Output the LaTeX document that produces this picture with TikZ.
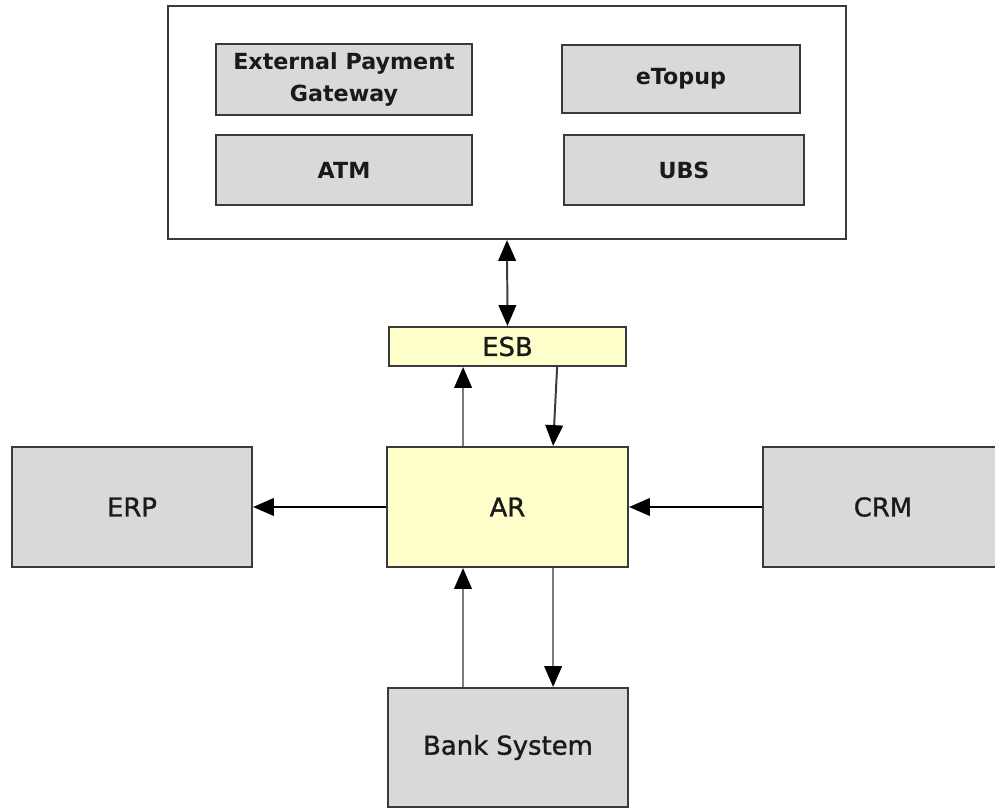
\documentclass[tikz,border=0pt]{standalone}
\usepackage{fontspec}
\setmainfont{DejaVu Sans}
\newfontfamily\heavy{DejaVu Sans}[FakeBold=1.2]
\usepackage{tikz}
\usetikzlibrary{arrows.meta,positioning,calc}
\definecolor{edge}{RGB}{58,58,58}
\definecolor{ink}{RGB}{26,26,26}
\definecolor{box}{RGB}{217,217,217}
\definecolor{hub}{RGB}{255,255,204}
\definecolor{wire}{RGB}{125,125,125}

\begin{document}
\begin{tikzpicture}[x=0.025cm,y=-0.025cm,>={Triangle[length=0.52cm,width=0.44cm,color=black,fill=black]},font=\heavy\fontsize{18.4}{22}\selectfont]
\tikzset{sys/.style={draw=edge,line width=1.5pt,fill=box,inner sep=0pt,align=center,text=ink},
  chan/.style={sys,font=\normalfont\fontsize{15.8}{23.4}\selectfont\bfseries},
  mid/.style={sys,fill=hub},arr/.style={->,line width=1.4pt,draw=black},garr/.style={arr,draw=wire}}
\useasboundingbox (0,0) rectangle (995,808);
\clip (0,0) rectangle (995,808);
% payment channels
\node[sys,fill=white,minimum width=16.95cm,minimum height=5.825cm] (ext) at (507,122.5) {};
\node[chan,minimum width=6.4cm,minimum height=1.775cm] (epg) at (344,79.5) {External Payment\\Gateway};
\node[chan,minimum width=5.95cm,minimum height=1.7cm] (etop) at (681,79) {eTopup};
\node[chan,minimum width=6.4cm,minimum height=1.75cm] (atm) at (344,170) {ATM};
\node[chan,minimum width=6cm,minimum height=1.75cm] (ubs) at (684,170) {UBS};
% core
\node[mid,minimum width=5.925cm,minimum height=0.975cm] (esb) at (507.5,346.5) {ESB};
\node[mid,minimum width=6.025cm,minimum height=3cm] (ar) at (507.5,507) {AR};
\node[sys,minimum width=6cm,minimum height=3cm] (erp) at (132,507) {ERP};
\node[sys,minimum width=6cm,minimum height=3cm] (crm) at (883,507) {CRM};
\node[sys,minimum width=6cm,minimum height=2.975cm] (bank) at (508,747.5) {Bank System};
% links
\draw[<->,line width=1.4pt,draw=edge] (ext.south) -- (esb.north);
\draw[garr] ([xshift=-1.11cm]ar.north) -- ([xshift=-1.11cm]ar.north |- esb.south);
\draw[arr,draw=edge] ([xshift=1.24cm]esb.south) -- ([xshift=1.14cm]ar.north);
\draw[arr] (ar) -- (erp);
\draw[arr] (crm) -- (ar);
\draw[garr] ([xshift=-1.125cm]bank.north) -- ([xshift=-1.125cm]bank.north |- ar.south);
\draw[garr] ([xshift=1.14cm]ar.south) -- ([xshift=1.14cm]ar.south |- bank.north);
\end{tikzpicture}
\end{document}
